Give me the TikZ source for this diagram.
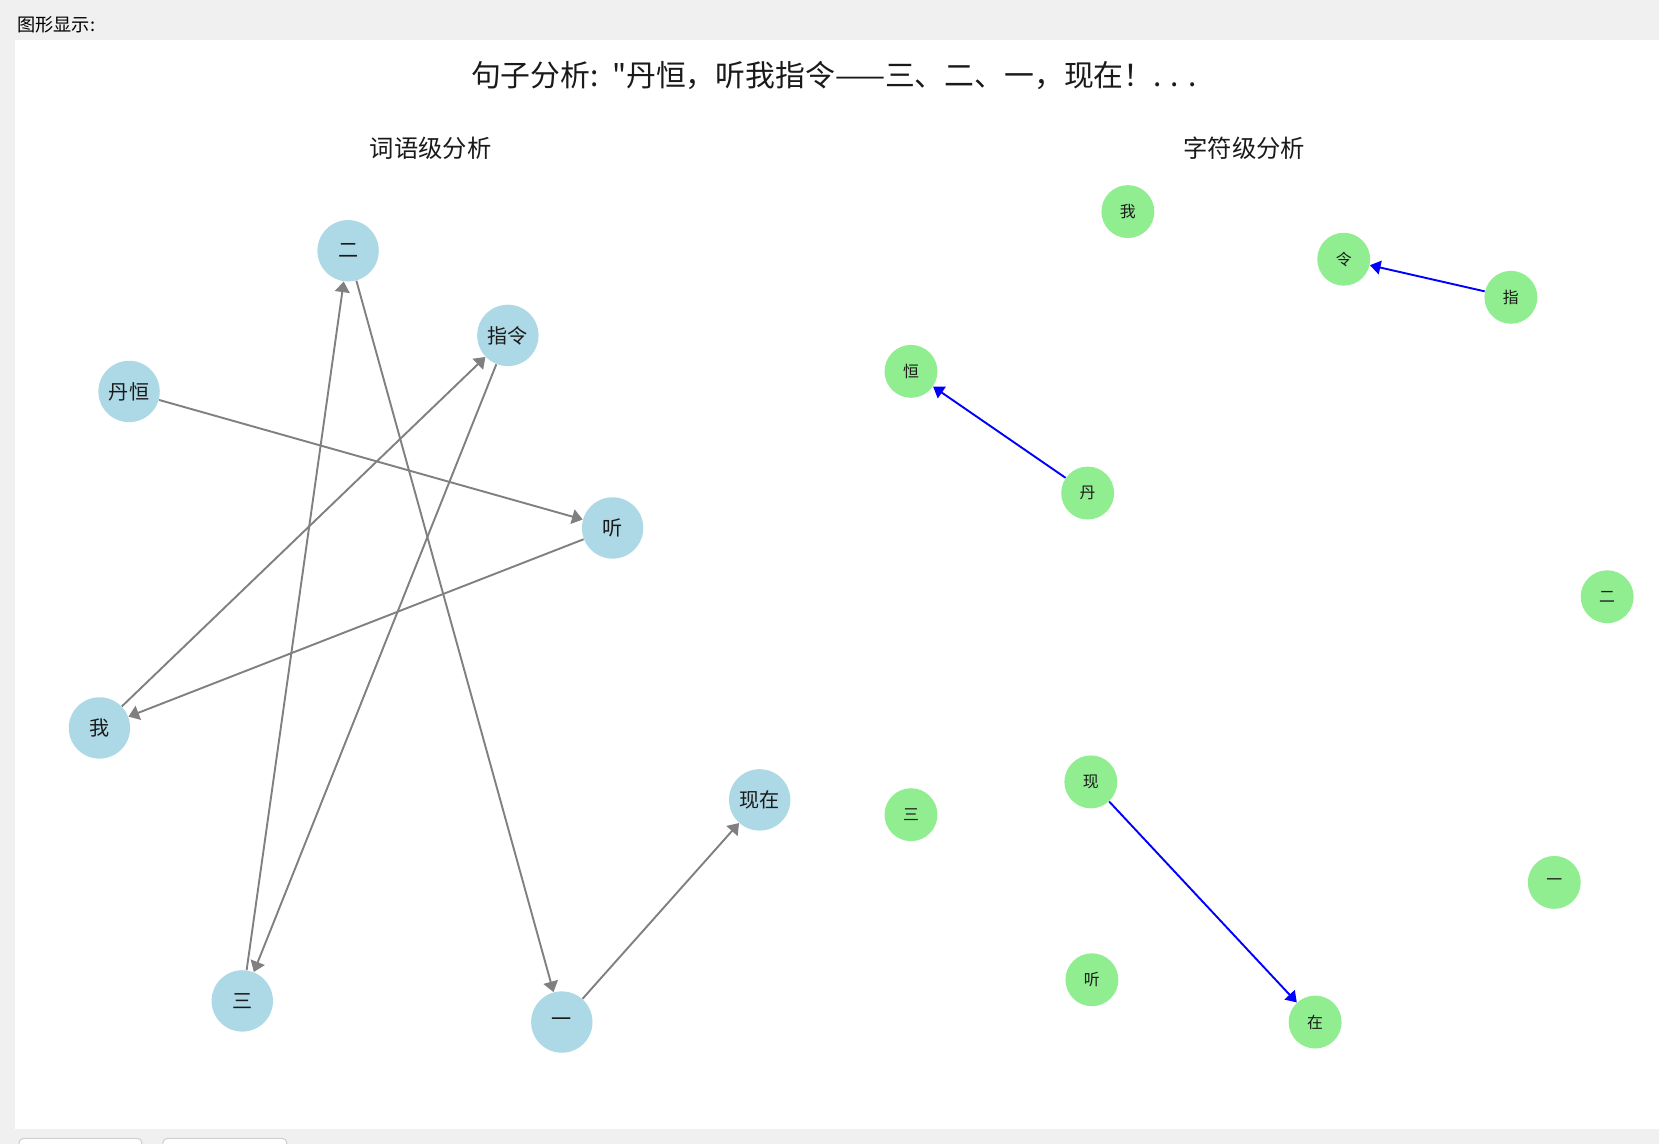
\documentclass[tikz,border=0pt]{standalone}
\usepackage{fontspec}
\setmainfont{Noto Sans CJK SC}[Ligatures=TeXOff]
\usetikzlibrary{arrows.meta}
\definecolor{bgray}{HTML}{F0F0F0}
\definecolor{tabline}{HTML}{D0D0D0}
\definecolor{lblue}{HTML}{ADD8E6}
\definecolor{lgreen}{HTML}{90EE90}
\definecolor{egray}{HTML}{808080}
\definecolor{txt}{HTML}{1A1A1A}
\begin{document}
\begin{tikzpicture}[x=0.5pt,y=-0.5pt,
  wnode/.style={circle,fill=lblue,minimum size=29pt,inner sep=0pt,text=txt,font=\fontsize{9.5pt}{10pt}\selectfont},
  cnode/.style={circle,fill=lgreen,minimum size=25pt,inner sep=0pt,text=txt,font=\fontsize{7.5pt}{8pt}\selectfont},
  wedge/.style={draw=egray,line width=0.9pt,-{Triangle[length=5pt,width=7pt]}},
  cedge/.style={draw=blue,line width=0.9pt,-{Triangle[length=5pt,width=6.5pt]}},
  tab/.style={draw=tabline,fill=white,line width=0.5pt,rounded corners=2pt}
]
\useasboundingbox (0,0) rectangle (1568,1081);
\fill[bgray] (0,0) rectangle (1568,1081);
\fill[white] (14,38) rectangle (1568,1067);
\draw[tab] (18,1085) -- (18,1076) -- (134,1076) -- (134,1085);
\draw[tab] (154,1085) -- (154,1076) -- (271,1076) -- (271,1085);
\node[anchor=west,inner sep=0pt,font=\fontsize{8.6pt}{9pt}\selectfont] (hdr) at (16,23) {图形显示:};

\node[font=\fontsize{14.1pt}{15pt}\selectfont,text=txt] (title) at (788,71) {句子分析:\hspace{0.45em}"丹恒，听我指令——三、二、一，现在！.\hspace{0.3em}.\hspace{0.3em}.};
\node[font=\fontsize{11.5pt}{13pt}\selectfont,text=txt] (sub1) at (407,140) {词语级分析};
\node[font=\fontsize{11.5pt}{13pt}\selectfont,text=txt] (sub2) at (1176,140) {字符级分析};

% word level
\node[wnode] (wer) at (329,237) {二};
\node[wnode] (wzl) at (480,317) {指令};
\node[wnode] (wdh) at (122,370) {丹恒};
\node[wnode] (wting) at (579,499) {听};
\node[wnode] (wwo) at (94,688) {我};
\node[wnode] (wxz) at (718,756) {现在};
\node[wnode] (wsan) at (229,946) {三};
\node[wnode] (wyi) at (531,966) {一};

\draw[wedge] (wdh) -- (wting);
\draw[wedge] (wting) -- (wwo);
\draw[wedge] (wwo) -- (wzl);
\draw[wedge] (wzl) -- (wsan);
\draw[wedge] (wsan) -- (wer);
\draw[wedge] (wer) -- (wyi);
\draw[wedge] (wyi) -- (wxz);

% character level
\node[cnode] (cwo) at (1066,200) {我};
\node[cnode] (cling) at (1270,245) {令};
\node[cnode] (czhi) at (1428,281) {指};
\node[cnode] (cheng) at (861,351) {恒};
\node[cnode] (cdan) at (1028,466) {丹};
\node[cnode] (cer) at (1519,564) {二};
\node[cnode] (csan) at (861,770) {三};
\node[cnode] (cxian) at (1031,739) {现};
\node[cnode] (cyi) at (1469,834) {一};
\node[cnode] (cting) at (1032,926) {听};
\node[cnode] (czai) at (1243,966) {在};

\draw[cedge] (czhi) -- (cling);
\draw[cedge] (cdan) -- (cheng);
\draw[cedge] (cxian) -- (czai);
\end{tikzpicture}
\end{document}
